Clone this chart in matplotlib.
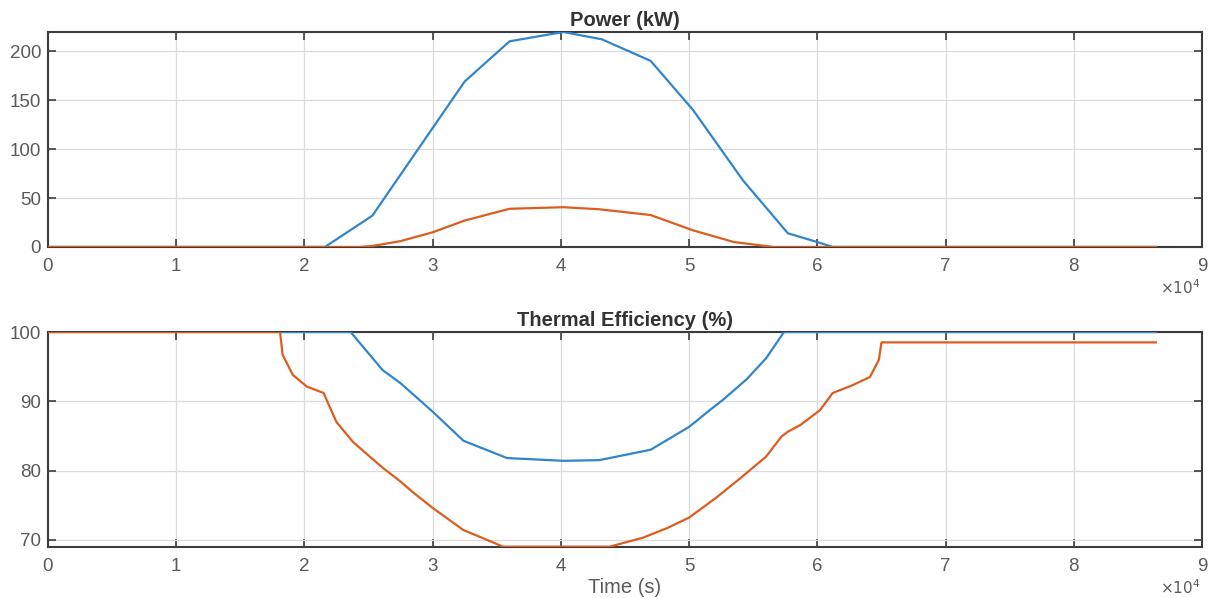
import matplotlib
matplotlib.use("Agg")
import matplotlib.pyplot as plt
from matplotlib.ticker import FuncFormatter, MultipleLocator

plt.rcParams['font.family'] = ['Liberation Sans', 'DejaVu Sans']

# ---- Data (time in seconds) ----
t_pow_blue = [0, 21600, 25300, 27400, 32500, 36000, 40200, 43200, 47000, 50300, 54200, 57700, 60000, 61200, 86400]
p_blue     = [0, 0,     32,    72,    169,   210,   219.5, 212,   190,   140,   68,    14,    5,     0,     0]

t_pow_orange = [0, 24300, 25300, 27500, 30000, 32500, 36000, 40200, 43000, 47000, 50300, 53500, 56600, 86400]
p_orange     = [0, 0,     1,     6,     15,    27,    39,    40.6,  38.5,  32.6,  17,    5,     0,     0]

t_eff_blue = [0, 23600, 25100, 26100, 27500, 30000, 32400, 35800, 40200, 43000, 47000, 50000, 51600,
              52700, 54500, 56000, 57400, 86400]
e_blue     = [100, 100, 96.7,  94.5,  92.6,  88.5,  84.3,  81.8,  81.4,  81.5,  83.0,  86.3,  88.7,
              90.3,  93.2,  96.2,  100,   100]

t_eff_orange = [0, 18100, 18300, 19100, 20200, 21500, 21800, 22500, 23800, 25100, 26100, 27500,
                28500, 30000, 32400, 33700, 35500, 43800, 46400, 48300, 50000, 52200, 54000,
                56000, 57200, 57700, 58700, 60200, 61200, 62600, 64100, 64800, 65000, 86400]
e_orange     = [100, 100, 96.7, 93.8, 92.1, 91.2, 89.9, 87.0, 84.1, 82.0, 80.4, 78.4,
                76.8, 74.6, 71.4, 70.4, 69.0, 69.0, 70.3, 71.7, 73.2, 76.2, 78.9,
                82.0, 84.9, 85.6, 86.6, 88.7, 91.2, 92.2, 93.5, 96.0, 98.5, 98.5]

x_ticks = [0, 10000, 20000, 30000, 40000, 50000, 60000, 70000, 80000, 90000]

BLUE = '#2f86cf'
ORANGE = '#dd5d1f'
GRAY = '#3c3c3c'
TICKC = '#5a5a5a'

fig = plt.figure(figsize=(12.11, 5.98), dpi=100)
ax1 = fig.add_axes([0.0396, 0.587, 0.953, 0.3595])
ax2 = fig.add_axes([0.0396, 0.0858, 0.953, 0.359])

def style(ax):
    ax.set_xlim(0, 90000)
    ax.set_xticks(x_ticks)
    ax.xaxis.set_major_formatter(FuncFormatter(lambda v, p: f"{v/1e4:g}"))
    ax.grid(True, color='#dcdcdc', linewidth=0.9)
    ax.set_axisbelow(True)
    for s in ax.spines.values():
        s.set_color(GRAY)
        s.set_linewidth(1.5)
    ax.tick_params(direction='in', length=6, width=1.2, color=GRAY,
                   labelcolor=TICKC, labelsize=13.5, top=True, right=True)
    ax.tick_params(axis='x', pad=8)
    ax.tick_params(axis='y', pad=5)

ax1.plot(t_pow_blue, p_blue, color=BLUE, lw=1.6, zorder=3)
ax1.plot(t_pow_orange, p_orange, color=ORANGE, lw=1.6, zorder=3)
style(ax1)
ax1.set_ylim(0, 219.5)
ax1.yaxis.set_major_locator(MultipleLocator(50))
ax1.set_title('Power (kW)', fontsize=14.5, fontweight='bold', color='#333333', pad=4)

ax2.plot(t_eff_blue, e_blue, color=BLUE, lw=1.6, zorder=3)
ax2.plot(t_eff_orange, e_orange, color=ORANGE, lw=1.6, zorder=3)
style(ax2)
ax2.set_ylim(69.0, 100)
ax2.set_yticks([70, 80, 90, 100])
ax2.set_title('Thermal Efficiency (%)', fontsize=14.5, fontweight='bold', color='#333333', pad=4)
ax2.set_xlabel('Time (s)', fontsize=14.5, color=TICKC, labelpad=2)

for ypix in (288, 588):
    fig.text(1200 / 1211, 1 - ypix / 598, r'$\times10^4$', ha='right', va='center',
             fontsize=11, color=TICKC)

fig.savefig('out.png', dpi=100)
